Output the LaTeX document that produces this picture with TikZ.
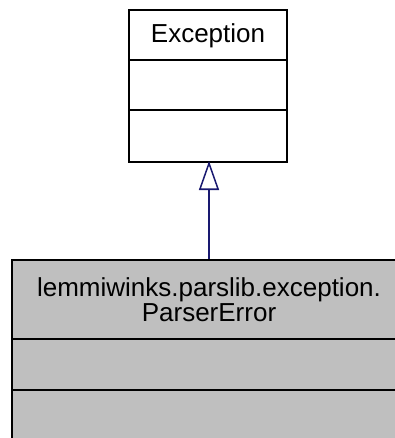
\documentclass[tikz,border=0pt]{standalone}
\usepackage{fontspec}
\setmainfont{Liberation Sans}
\usetikzlibrary{arrows.meta}
\definecolor{edgeblue}{HTML}{191970}
\definecolor{boxgray}{HTML}{BFBFBF}
\begin{document}
\begin{tikzpicture}[x=1pt,y=-1pt,
  classbox/.style={draw=black, line width=2pt, inner sep=0pt},
  label/.style={font=\fontsize{26}{30}\selectfont, anchor=base, inner sep=0pt},
  sep/.style={draw=black, line width=2pt},
  inherit/.style={draw=edgeblue, line width=1.5pt, shorten >=-2pt, -{Triangle[open, length=29pt, width=20pt, line width=1.5pt]}}]
\useasboundingbox (0,0) rectangle (395,438);
\clip (0,0) rectangle (395,438);
% top class
\node[classbox, minimum width=158pt, minimum height=152pt] (exc) at (208,86) {};
\node[label] (exct) at (208,43) {Exception};
\draw[sep] (exc.west |- 0,60) -- (exc.east |- 0,60);
\draw[sep] (exc.west |- 0,110) -- (exc.east |- 0,110);
% bottom class
\node[classbox, fill=boxgray, minimum width=394pt, minimum height=220pt] (perr) at (209,370) {};
\node[label] (perrt1) at (209,296) {lemmiwinks.parslib.exception.};
\node[label] (perrt2) at (209,321) {ParserError};
\draw[sep] (perr.west |- 0,339) -- (perr.east |- 0,339);
\draw[sep] (perr.west |- 0,390) -- (perr.east |- 0,390);
% inheritance
\draw[inherit] (perr.north -| 209,0) -- (exc.south -| 209,0);
\end{tikzpicture}
\end{document}
